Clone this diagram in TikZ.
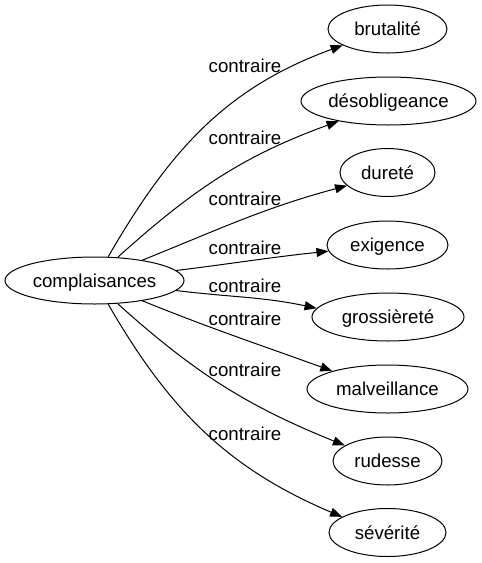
\documentclass[tikz,border=0pt]{standalone}
\usepackage{fontspec}
\setmainfont{Liberation Sans}
\usetikzlibrary{shapes.geometric,arrows.meta}
\begin{document}
\begin{tikzpicture}[x=1pt,y=-1pt,
  every node/.style={font=\fontsize{18.67}{22}\selectfont, text height=14pt, text depth=1pt, inner sep=0pt},
  word/.style={draw, ellipse, line width=1pt, minimum height=48pt},
  lbl/.style={},
  edge/.style={line width=1pt, -{Triangle[length=12pt,width=9pt]}}]
\useasboundingbox (0,0) rectangle (482,563);
\node[word, minimum width=179pt, minimum height=47pt] (c) at (94.5,280.5) {complaisances};
\node[word, minimum width=119pt] (b) at (387.5,29) {brutalité};
\node[word, minimum width=175pt] (d) at (388.5,101) {désobligeance};
\node[word, minimum width=95pt] (du) at (387.5,172.5) {dureté};
\node[word, minimum width=121pt] (ex) at (387.5,245) {exigence};
\node[word, minimum width=152pt] (g) at (388,317) {grossièreté};
\node[word, minimum width=161pt] (m) at (387.5,389) {malveillance};
\node[word, minimum width=109pt] (r) at (387.5,461) {rudesse};
\node[word, minimum width=117pt] (s) at (387.5,532.5) {sévérité};
\draw[edge] (c.60) to[out=60,in=200] (b.200);
\draw[edge] (c.45) to[out=42,in=200] (d.202);
\draw[edge] (c.23) to[out=22,in=195] (du.198);
\draw[edge] (c.7) to[out=7,in=186] (ex.186);
\draw[edge] (c.-7) to[out=-7,in=168] (g.173);
\draw[edge] (c.-23) to[out=-22,in=160] (m.162);
\draw[edge] (c.-45) to[out=-42,in=158] (r.160);
\draw[edge] (c.-60) to[out=-60,in=157] (s.161);
\node[lbl] (l1) at (245,66) {contraire};
\node[lbl] (l2) at (245,138) {contraire};
\node[lbl] (l3) at (245,199) {contraire};
\node[lbl] (l4) at (245,248) {contraire};
\node[lbl] (l5) at (245,286) {contraire};
\node[lbl] (l6) at (245,319) {contraire};
\node[lbl] (l7) at (245,370) {contraire};
\node[lbl] (l8) at (245,434) {contraire};
\end{tikzpicture}
\end{document}
